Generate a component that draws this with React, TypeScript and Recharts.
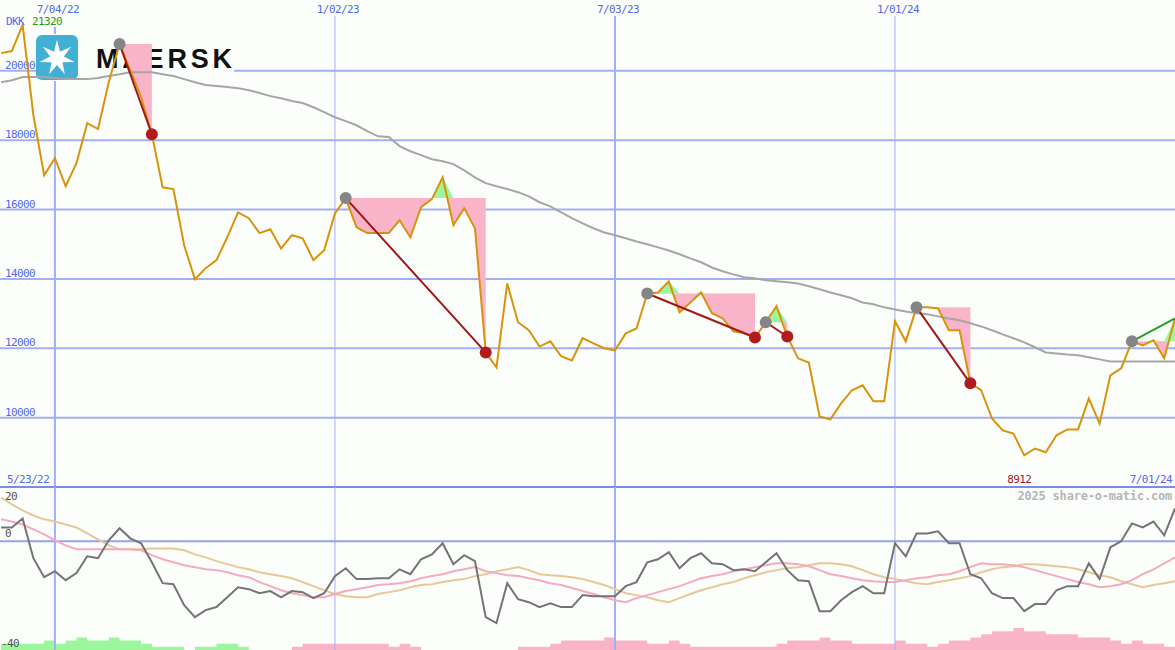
import { ComposedChart, Line, Area, XAxis, YAxis, ReferenceLine, ReferenceDot } from "recharts";

// weekly closes, DKK, 5/23/22 .. 7/01/24
const PRICE = [
  20510, 20570, 21320, 18720, 16990, 17480, 16670, 17340, 18490, 18320,
  19670, 20770, 20020, 19240, 18170, 16640, 16590, 14970, 13990, 14310,
  14540, 15200, 15920, 15750, 15320, 15430, 14880, 15260, 15170, 14540,
  14830, 15890, 16330, 15490, 15320, 15320, 15320, 15690, 15200, 16070,
  16300, 16930, 15550, 16040, 15460, 11880, 11450, 13870, 12750, 12520,
  12050, 12200, 11770, 11650, 12290, 12140, 12000, 11940, 12430, 12570,
  13580, 13610, 13930, 13040, 13320, 13610, 13010, 12860, 12490, 12430,
  12310, 12750, 13210, 12340, 11710, 11590, 10030, 9950, 10410, 10790,
  10930, 10470, 10470, 12780, 12200, 13180, 13180, 13150, 12520, 12520,
  10990, 10790, 9980, 9630, 9540, 8912, 9110, 9000, 9490, 9660,
  9660, 10550, 9830, 11220, 11420, 12200, 12080, 12230, 11710, 12860,
];

const MA = [
  19670, 19730, 19820, 19820, 19820, 19790, 19760, 19760, 19760, 19790,
  19850, 19900, 19960, 19960, 19960, 19900, 19850, 19760, 19670, 19590,
  19560, 19530, 19500, 19440, 19360, 19270, 19210, 19130, 19070, 18950,
  18810, 18660, 18550, 18430, 18260, 18110, 18090, 17830, 17680, 17570,
  17450, 17390, 17310, 17130, 16930, 16760, 16670, 16590, 16500, 16380,
  16210, 16090, 15920, 15750, 15600, 15460, 15340, 15260, 15170, 15080,
  15000, 14910, 14820, 14710, 14590, 14480, 14330, 14220, 14130, 14050,
  14020, 13960, 13930, 13900, 13870, 13790, 13700, 13610, 13530, 13440,
  13320, 13270, 13180, 13120, 13060, 13010, 12980, 12920, 12860, 12810,
  12720, 12630, 12520, 12400, 12290, 12170, 12030, 11880, 11850, 11820,
  11800, 11740, 11680, 11620, 11620, 11620, 11620, 11620, 11620, 11620,
];

const OSC = [
  5.1, 5.1, 8.4, -6.2, -13.2, -11.0, -14.3, -11.7, -5.5, -6.2,
  0.4, 4.8, 1.1, -0.7, -7.7, -15.4, -15.8, -23.5, -27.9, -25.3,
  -24.2, -20.6, -16.9, -17.6, -19.1, -18.3, -20.6, -18.3, -18.7, -20.9,
  -19.1, -12.8, -9.9, -13.9, -13.9, -13.6, -13.6, -10.3, -12.1, -6.6,
  -4.8, -0.7, -8.4, -5.1, -7.3, -27.9, -30.1, -15.4, -21.3, -22.4,
  -24.2, -22.8, -24.2, -24.2, -19.8, -20.2, -20.2, -20.2, -16.5, -15.0,
  -7.7, -6.6, -4.0, -9.9, -6.2, -4.4, -8.1, -8.4, -10.6, -10.3,
  -11.0, -7.7, -4.4, -10.6, -14.3, -14.7, -25.7, -25.7, -21.7, -18.7,
  -16.5, -19.1, -19.1, -0.7, -5.5, 2.9, 2.9, 3.7, -0.7, -0.7,
  -12.1, -13.6, -19.1, -20.9, -20.9, -25.7, -23.1, -23.1, -18.0, -16.5,
  -16.5, -8.1, -13.9, -2.2, 0, 6.6, 5.1, 7.3, 2.2, 12.1,
];

const OSC_SIGNAL = [
  8.1, 7.3, 6.2, 4.4, 2.6, 0.4, -1.5, -2.9, -2.9, -2.9,
  -2.9, -2.9, -2.9, -3.3, -5.1, -6.6, -7.7, -8.8, -9.5, -10.3,
  -10.6, -11.4, -12.5, -13.2, -15.0, -16.5, -18.0, -19.1, -19.8, -20.6,
  -20.6, -19.4, -18.3, -17.6, -16.9, -16.1, -15.8, -15.4, -14.7, -13.6,
  -12.8, -12.1, -11.0, -10.3, -9.5, -11.0, -11.7, -12.5, -12.8, -13.6,
  -14.3, -15.4, -16.1, -17.2, -18.3, -19.4, -20.6, -21.7, -22.4, -20.9,
  -19.8, -18.7, -17.6, -16.5, -15.0, -13.6, -12.8, -12.1, -11.0, -10.3,
  -9.5, -8.8, -8.1, -8.1, -8.4, -9.2, -10.6, -12.1, -12.8, -13.6,
  -14.3, -14.7, -15.0, -15.0, -14.3, -13.6, -13.2, -12.5, -12.1, -11.0,
  -9.5, -8.1, -8.4, -8.4, -8.8, -9.5, -10.6, -11.7, -12.8, -13.9,
  -15.0, -15.8, -16.9, -16.5, -15.8, -14.3, -12.1, -10.3, -8.1, -5.9,
];

const OSC_SLOW = [
  16.1, 13.6, 11.4, 9.5, 8.1, 7.3, 6.2, 5.1, 2.9, 0.7,
  -1.5, -2.9, -2.9, -2.9, -2.6, -2.6, -2.6, -3.3, -4.8, -5.9,
  -7.3, -8.4, -9.5, -10.3, -11.4, -12.1, -12.8, -13.6, -15.0, -16.5,
  -18.0, -19.4, -20.2, -20.6, -20.6, -19.4, -18.7, -18.0, -16.9, -16.1,
  -15.8, -15.0, -14.3, -13.9, -12.8, -12.1, -11.0, -10.3, -9.5, -10.6,
  -12.1, -12.5, -12.8, -13.2, -13.9, -15.0, -16.1, -17.6, -19.1, -19.8,
  -20.6, -21.7, -22.4, -20.9, -19.4, -18.0, -16.9, -15.8, -15.0, -13.6,
  -12.5, -11.4, -10.6, -9.9, -9.5, -8.8, -8.1, -8.1, -8.4, -9.2,
  -10.6, -12.1, -13.2, -13.9, -14.7, -15.4, -15.8, -15.0, -14.3, -13.6,
  -12.8, -11.4, -10.3, -9.5, -9.2, -8.4, -8.4, -8.8, -9.2, -9.5,
  -10.3, -11.4, -12.5, -13.2, -14.7, -15.8, -16.9, -16.1, -15.4, -14.7,
];

// histogram steps at the foot of the lower panel
const VOL_UP = [
  2, 2, 2, 2, 3, 2, 3, 4, 3, 3,
  4, 3, 3, 2, 1, 1, 1, 0, 1, 1,
  2, 2, 1, 0, 0, 0, 0, 0, 0, 0,
  0, 0, 0, 0, 0, 0, 0, 0, 0, 0,
  0, 0, 0, 0, 0, 0, 0, 0, 0, 0,
  0, 0, 0, 0, 0, 0, 0, 0, 0, 0,
  0, 0, 0, 0, 0, 0, 0, 0, 0, 0,
  0, 0, 0, 0, 0, 0, 0, 0, 0, 0,
  0, 0, 0, 0, 0, 0, 0, 0, 0, 0,
  0, 0, 0, 0, 0, 0, 0, 0, 0, 0,
  0, 0, 0, 0, 0, 0, 0, 0, 0, 0,
];
const VOL_DOWN = [
  0, 0, 0, 0, 0, 0, 0, 0, 0, 0,
  0, 0, 0, 0, 0, 0, 0, 0, 0, 0,
  0, 0, 0, 0, 0, 0, 0, 1, 2, 2,
  2, 2, 2, 2, 2, 2, 1, 2, 1, 0,
  0, 0, 0, 0, 0, 0, 0, 0, 1, 1,
  1, 2, 3, 3, 3, 3, 4, 3, 3, 3,
  2, 2, 3, 2, 1, 1, 1, 1, 1, 1,
  1, 1, 2, 3, 3, 3, 4, 3, 3, 2,
  2, 2, 2, 3, 2, 2, 1, 2, 3, 3,
  4, 5, 6, 6, 7, 6, 6, 5, 5, 5,
  4, 4, 4, 3, 2, 3, 2, 2, 1, 1,
];

const TRADES = [
  { entry: 11, exit: 14, open: false },
  { entry: 32, exit: 45, open: false },
  { entry: 60, exit: 70, open: false },
  { entry: 71, exit: 73, open: false },
  { entry: 85, exit: 90, open: false },
  { entry: 105, exit: 109, open: true },
];

const DATE_TICKS = [5, 31, 57, 83];
const DATE_LABELS = ["7/04/22", "1/02/23", "7/03/23", "1/01/24"];
const PRICE_TICKS = [10000, 12000, 14000, 16000, 18000, 20000];
const FIRST_DATE = "5/23/22";
const LAST_DATE = "7/01/24";

const W = 1175;
const X_DOMAIN = [-0.1, 109];
const PRICE_DOMAIN = [8000, 21580];
const OSC_DOMAIN = [-40, 20];
const MONO = '"DejaVu Sans Mono", monospace';
const BG = "#fcfefc";
const GRID = "#a4aef2";
const BLUE = "#5468ee";
const PINK = "#fab4c9";
const GREEN = "#9cf79c";

const rows: any[] = PRICE.map((p, i) => ({
  i,
  price: p,
  ma: MA[i],
  osc: OSC[i],
  sig: OSC_SIGNAL[i],
  slow: OSC_SLOW[i],
  up: VOL_UP[i],
  down: VOL_DOWN[i],
}));

TRADES.forEach((t, k) => {
  const slot = k % 2 ? "B" : "A";
  const level = PRICE[t.entry];
  for (let i = t.entry; i <= t.exit; i++) {
    rows[i]["loss" + slot] = [PRICE[i], level];
    rows[i]["win" + slot] = [level, Math.max(PRICE[i], level)];
  }
  rows[t.entry]["t" + k] = PRICE[t.entry];
  rows[t.exit]["t" + k] = PRICE[t.exit];
});

const maxPrice = Math.max(...PRICE);
const minPrice = Math.min(...PRICE);
const minIdx = PRICE.indexOf(minPrice);

const txt = { fontSize: 11, fontFamily: MONO, letterSpacing: -0.6 };

// label drawn at the left edge, `dy` px from the reference line
const leftLabel = (value: string | number, dy: number, fill: string, x = 5) => (props: any) => {
  const vb = props.viewBox || {};
  return (
    <text x={x} y={(vb.y ?? 0) + dy} fill={fill} {...txt}>
      {value}
    </text>
  );
};

const tradeDot = (t: any) => (p: any) => {
  if (p.index === t.entry) return <circle key={p.index} cx={p.cx} cy={p.cy} r={6} fill="#858585" />;
  if (p.index === t.exit && !t.open) return <circle key={p.index} cx={p.cx} cy={p.cy} r={6} fill="#b01c1c" />;
  return <g key={p.index} />;
};

const Logo = () => {
  const pts = Array.from({ length: 14 }, (_, k) => {
    const a = (-90 + (k * 180) / 7) * (Math.PI / 180);
    const r = k % 2 ? 7 : 18;
    return `${57 + r * Math.cos(a)},${58 + r * Math.sin(a)}`;
  }).join(" ");
  return (
    <svg width={W} height={100} style={{ position: "absolute", left: 0, top: 0 }}>
      <rect x={36} y={34} width={198} height={47} fill={BG} />
      <rect x={30} y={15} width={34} height={12} fill={BG} />
      <rect x={36} y={35} width={42} height={45} rx={6} fill="#42b0d5" />
      <polygon points={pts} fill="#ffffff" />
      <text x={96} y={68} fontSize={27} fontWeight={900} fontFamily='"Liberation Sans", Arial, sans-serif' letterSpacing={3.8} fill="#111">
        MAERSK
      </text>
    </svg>
  );
};

export default function App() {
  const topMargin = { top: 16, right: 0, bottom: 2, left: 0 };
  return (
    <div style={{ position: "relative", width: W, height: 650, background: BG, overflow: "hidden" }}>
      <style>{"body{margin:0}"}</style>

      {/* grid layer */}
      <div style={{ position: "absolute", left: 0, top: 0 }}>
        <ComposedChart width={W} height={489} data={rows} margin={topMargin}>
          <XAxis type="number" dataKey="i" domain={X_DOMAIN} hide />
          <YAxis domain={PRICE_DOMAIN} hide />
          {PRICE_TICKS.map((v) => (
            <ReferenceLine key={v} y={v} stroke={GRID} strokeWidth={2} label={leftLabel(v, -2, BLUE)} />
          ))}
          {DATE_TICKS.map((d, k) => (
            <ReferenceLine
              key={d}
              x={d}
              stroke={GRID}
              strokeWidth={k % 2 ? 1 : 2}
              label={{ value: DATE_LABELS[k], position: "top", offset: 3, dx: 3, fill: BLUE, ...txt }}
            />
          ))}
          <ReferenceLine y={8000} stroke="#7d8ae6" strokeWidth={2} />
          <Line dataKey="price" stroke="none" dot={false} activeDot={false} isAnimationActive={false} />
        </ComposedChart>
      </div>

      <Logo />

      {/* data layer */}
      <div style={{ position: "absolute", left: 0, top: 0 }}>
        <ComposedChart width={W} height={489} data={rows} margin={topMargin}>
          <XAxis type="number" dataKey="i" domain={X_DOMAIN} hide />
          <YAxis domain={PRICE_DOMAIN} hide />
          <Area dataKey="lossA" type="linear" stroke="none" fill={PINK} fillOpacity={1} isAnimationActive={false} activeDot={false} />
          <Area dataKey="lossB" type="linear" stroke="none" fill={PINK} fillOpacity={1} isAnimationActive={false} activeDot={false} />
          <Area dataKey="winA" type="linear" stroke="none" fill={GREEN} fillOpacity={1} isAnimationActive={false} activeDot={false} />
          <Area dataKey="winB" type="linear" stroke="none" fill={GREEN} fillOpacity={1} isAnimationActive={false} activeDot={false} />
          <Line dataKey="ma" type="linear" stroke="#a6a6a6" strokeWidth={2} dot={false} isAnimationActive={false} />
          <Line dataKey="price" type="linear" stroke="#d8930c" strokeWidth={2} dot={false} isAnimationActive={false} />
          {TRADES.map((t, k) => (
            <Line
              key={k}
              dataKey={"t" + k}
              type="linear"
              connectNulls
              stroke={t.open ? "#22a022" : "#a01818"}
              strokeWidth={2}
              dot={tradeDot(t)}
              isAnimationActive={false}
            />
          ))}
          <ReferenceDot
            x={minIdx}
            y={8000}
            r={1}
            fill="none"
            stroke="none"
            label={{ value: String(minPrice), position: "top", offset: 3, dx: -5, fill: "#a01818", ...txt }}
          />
        </ComposedChart>
      </div>

      {/* lower panel */}
      <div style={{ position: "absolute", left: 0, top: 487 }}>
        <ComposedChart width={W} height={163} data={rows} margin={{ top: 0, right: 0, bottom: 0, left: 0 }}>
          <XAxis type="number" dataKey="i" domain={X_DOMAIN} hide />
          <YAxis yAxisId="o" domain={OSC_DOMAIN} hide />
          <YAxis yAxisId="h" domain={[0, 52]} hide />
          {DATE_TICKS.map((d, k) => (
            <ReferenceLine key={d} yAxisId="o" x={d} stroke={GRID} strokeWidth={k % 2 ? 1 : 2} />
          ))}
          <ReferenceLine yAxisId="o" y={0} stroke="#97a2ee" strokeWidth={2} label={leftLabel(0, -4, "#505050")} />
          <ReferenceLine yAxisId="o" y={OSC_DOMAIN[1]} stroke="none" label={leftLabel(OSC_DOMAIN[1], 13, "#505050")} />
          <ReferenceLine yAxisId="o" y={OSC_DOMAIN[0]} stroke="none" label={leftLabel(OSC_DOMAIN[0], -3, "#505050", 1)} />
          <Area yAxisId="h" dataKey="up" type="stepAfter" stroke="none" fill={GREEN} fillOpacity={1} isAnimationActive={false} activeDot={false} />
          <Area yAxisId="h" dataKey="down" type="stepAfter" stroke="none" fill={PINK} fillOpacity={1} isAnimationActive={false} activeDot={false} />
          <Line yAxisId="o" dataKey="slow" type="linear" stroke="#e6c996" strokeWidth={2} dot={false} isAnimationActive={false} />
          <Line yAxisId="o" dataKey="sig" type="linear" stroke="#f7a9c2" strokeWidth={2} dot={false} isAnimationActive={false} />
          <Line yAxisId="o" dataKey="osc" type="linear" stroke="#747474" strokeWidth={2} dot={false} isAnimationActive={false} />
        </ComposedChart>
      </div>

      {/* loose captions */}
      <svg width={W} height={650} style={{ position: "absolute", left: 0, top: 0, pointerEvents: "none" }}>
        <text x={6} y={25} fill={BLUE} {...txt}>DKK</text>
        <text x={32} y={25} fill="#1c9c1c" {...txt}>{maxPrice}</text>
        <text x={7} y={483} fill={BLUE} {...txt}>{FIRST_DATE}</text>
        <text x={1172} y={483} textAnchor="end" fill={BLUE} {...txt}>{LAST_DATE}</text>
        <text x={1172} y={500} textAnchor="end" fill="#b6b6b6" fontSize={12} fontWeight="bold" fontFamily={MONO} letterSpacing={-0.2}>
          2025 share-o-matic.com
        </text>
      </svg>
    </div>
  );
}
